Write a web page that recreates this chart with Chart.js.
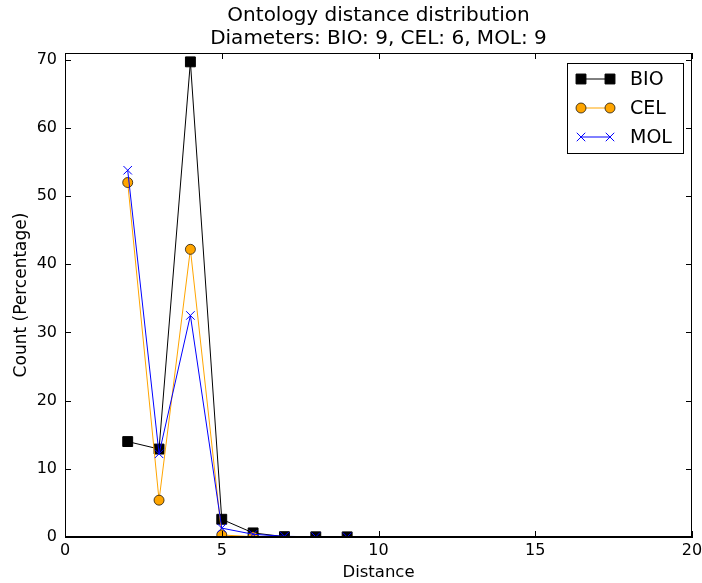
<!DOCTYPE html>
<html>
<head>
<meta charset="utf-8">
<script src="https://cdn.jsdelivr.net/npm/chart.js@4"></script>
<style>
  html, body { margin: 0; padding: 0; background: #fff; }
  #wrap { width: 702px; height: 583px; position: relative; }
</style>
</head>
<body>
<div id="wrap"><canvas id="chart"></canvas></div>
<script>
// data
const distances = [2, 3, 4, 5, 6, 7, 8, 9];
const bioValues = [14.0, 12.9, 69.7, 2.6, 0.6, 0.05, 0.03, 0.02];
const celValues = [52.0, 5.4, 42.2, 0.3, 0.05];
const molValues = [53.8, 12.2, 32.5, 1.3, 0.4, 0.1, 0.03, 0.01];
const xTicks = [0, 5, 10, 15, 20];
const yTicks = [0, 10, 20, 30, 40, 50, 60, 70];
const titleLines = ['Ontology distance distribution', 'Diameters: BIO: 9, CEL: 6, MOL: 9'];

const font = 'DejaVu Sans';

function toPoints(vals) {
  return vals.map((v, i) => ({ x: distances[i], y: v }));
}

// title, inward ticks, top/right frame and the legend box
const decor = {
  id: 'decor',
  afterDraw(chart) {
    const ctx = chart.ctx;
    const a = chart.chartArea;
    const xs = chart.scales.x, ys = chart.scales.y;
    ctx.save();
    ctx.strokeStyle = '#000';
    ctx.lineWidth = 1;
    ctx.strokeRect(a.left + 0.5, a.top + 0.5, a.right - a.left - 1, a.bottom - a.top - 1);
    ctx.beginPath();
    xTicks.forEach(t => {
      let px = Math.round(xs.getPixelForValue(t)) + 0.5;
      ctx.moveTo(px, a.bottom); ctx.lineTo(px, a.bottom - 6);
      ctx.moveTo(px, a.top); ctx.lineTo(px, a.top + 6);
    });
    yTicks.forEach(t => {
      let py = Math.round(ys.getPixelForValue(t)) + 0.5;
      ctx.moveTo(a.left, py); ctx.lineTo(a.left + 6, py);
      ctx.moveTo(a.right, py); ctx.lineTo(a.right - 6, py);
    });
    ctx.stroke();

    // title
    ctx.fillStyle = '#000';
    ctx.font = '20px "' + font + '"';
    ctx.textAlign = 'center';
    ctx.textBaseline = 'middle';
    let cx = (a.left + a.right) / 2;
    ctx.fillText(titleLines[0], cx, 16);
    ctx.fillText(titleLines[1], cx, 39);

    // legend
    const bx = 567, by = 63, bw = 116, bh = 90;
    ctx.fillStyle = '#fff';
    ctx.fillRect(bx, by, bw, bh);
    ctx.strokeRect(bx + 0.5, by + 0.5, bw, bh);
    chart.data.datasets.forEach((ds, i) => {
      let ly = by + 16 + i * 29;
      let x1 = bx + 14, x2 = bx + 43;
      ctx.strokeStyle = ds.borderColor;
      ctx.lineWidth = 1;
      ctx.beginPath();
      ctx.moveTo(x1, ly); ctx.lineTo(x2, ly);
      ctx.stroke();
      [x1, x2].forEach(px => {
        ctx.lineWidth = ds.pointBorderWidth;
        ctx.fillStyle = ds.pointBackgroundColor;
        ctx.strokeStyle = ds.pointBorderColor;
        Chart.helpers.drawPoint(ctx, {
          pointStyle: ds.pointStyle, radius: ds.pointRadius, borderWidth: ds.pointBorderWidth
        }, px, ly);
      });
      ctx.fillStyle = '#000';
      ctx.font = '19px "' + font + '"';
      ctx.textAlign = 'left';
      ctx.fillText(ds.label, bx + 63, ly + 1);
    });
    ctx.restore();
  }
};

new Chart(document.getElementById('chart'), {
  type: 'line',
  data: {
    datasets: [
      {
        label: 'BIO', data: toPoints(bioValues), order: 3,
        borderColor: '#000', borderWidth: 1,
        pointStyle: 'rect', pointRadius: 7, pointBorderWidth: 1,
        pointBackgroundColor: '#000', pointBorderColor: '#000'
      },
      {
        label: 'CEL', data: toPoints(celValues), order: 2,
        borderColor: '#ffa500', borderWidth: 1,
        pointStyle: 'circle', pointRadius: 5, pointBorderWidth: 0.7,
        pointBackgroundColor: '#ffa500', pointBorderColor: '#000'
      },
      {
        label: 'MOL', data: toPoints(molValues), order: 1,
        borderColor: '#0000ff', borderWidth: 1,
        pointStyle: 'crossRot', pointRadius: 6, pointBorderWidth: 1,
        pointBackgroundColor: '#0000ff', pointBorderColor: '#0000ff'
      }
    ]
  },
  options: {
    responsive: true,
    maintainAspectRatio: false,
    animation: false,
    layout: { padding: { top: 53, right: 10, left: 0, bottom: 0 } },
    plugins: {
      legend: { display: false },
      title: { display: false },
      tooltip: { enabled: false }
    },
    elements: { line: { tension: 0 } },
    scales: {
      x: {
        type: 'linear', min: 0, max: 20,
        afterBuildTicks: s => { s.ticks = xTicks.map(v => ({ value: v })); },
        afterFit: s => { s.height = 46; s.paddingLeft = 0; s.paddingRight = 0; },
        grid: { display: false, drawTicks: false },
        border: { display: true, color: '#000' },
        ticks: { color: '#000', padding: 4, font: { family: font, size: 16 }, maxRotation: 0 },
        title: { display: true, text: 'Distance', color: '#000', padding: { top: 0, bottom: 0 }, font: { family: font, size: 16.5 } }
      },
      y: {
        type: 'linear', min: 0, max: 71,
        afterBuildTicks: s => { s.ticks = yTicks.map(v => ({ value: v })); },
        afterFit: s => { s.width = 65; s.paddingTop = 0; s.paddingBottom = 0; },
        grid: { display: false, drawTicks: false },
        border: { display: true, color: '#000' },
        ticks: { color: '#000', padding: 8, font: { family: font, size: 16 } },
        title: { display: true, text: 'Count (Percentage)', color: '#000', padding: { top: 11, bottom: 0 }, font: { family: font, size: 17 } }
      }
    }
  },
  plugins: [decor]
});
</script>
</body>
</html>
